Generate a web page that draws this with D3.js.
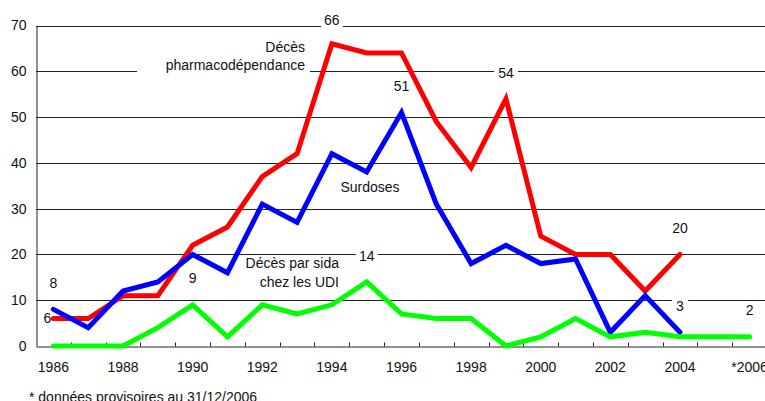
<!DOCTYPE html>
<html><head><meta charset="utf-8">
<script src="https://cdn.jsdelivr.net/npm/d3@7"></script>
<style>html,body{margin:0;padding:0;background:#fff;overflow:hidden}svg{display:block}text{font-family:"Liberation Sans",Arial,sans-serif;fill:#111}</style>
</head><body>
<script>
const years = [1986,1987,1988,1989,1990,1991,1992,1993,1994,1995,1996,1997,1998,1999,2000,2001,2002,2003,2004,2005,2006];
const xTickLabels = ["1986","1988","1990","1992","1994","1996","1998","2000","2002","2004","*2006"];
const yTicks = [0,10,20,30,40,50,60,70];
const pharmaco = [6,6,11,11,22,26,37,42,66,64,64,49,39,54,24,20,20,12,20];
const surdoses = [8,4,12,14,20,16,31,27,42,38,51,31,18,22,18,19,3,11,3];
const sida = [0,0,0,4,9,2,9,7,9,14,7,6,6,0,2,6,2,3,2,2,2];
const seriesColors = ["#ff0000","#0000ff","#00ff00"];
const annotations = [
  {year:1994, value:66, text:"66"},
  {year:1996, value:51, text:"51"},
  {year:1999, value:54, text:"54"},
  {year:1995, value:14, text:"14"},
  {year:2004, value:20, text:"20"},
  {year:2004, value:3, text:"3"},
  {year:2006, value:2, text:"2"},
  {year:1986, value:8, text:"8"},
  {year:1986, value:6, text:"6"},
  {year:1990, value:9, text:"9"}
];

const W=765,H=401,FS="14px";
const svg=d3.select("body").append("svg").attr("width",W).attr("height",H);
const x=d3.scaleBand().domain(years).range([36,767]);
const y=d3.scaleLinear().domain([0,70]).range([346,25.5]);
const cx=d=>x(d)+x.bandwidth()/2;

// gridlines
svg.append("g").selectAll("line").data(yTicks.filter(v=>v>0)).join("line")
 .attr("x1",36).attr("x2",W).attr("y1",d=>Math.round(y(d))+0.5).attr("y2",d=>Math.round(y(d))+0.5)
 .attr("stroke","#222").attr("stroke-width",1);

// y axis
const yAxis=d3.axisLeft(y).tickValues(yTicks).tickSize(0).tickPadding(10);
const ya=svg.append("g").attr("transform","translate(36.5,0)").call(yAxis);
ya.select(".domain").attr("stroke","#222");
ya.selectAll("text").style("font-size",FS).style("font-family","Liberation Sans, Arial, sans-serif").attr("fill","#111");

// x axis
const xa=svg.append("g").attr("transform",`translate(0,${Math.round(y(0))+0.5})`)
 .call(d3.axisBottom(x).tickValues([]).tickSizeOuter(0));
xa.select(".domain").attr("stroke","#222");
xa.selectAll(".bt").data(years.slice(1)).join("line").attr("class","bt")
 .attr("x1",d=>Math.round(x(d))+0.5).attr("x2",d=>Math.round(x(d))+0.5).attr("y1",0).attr("y2",-4).attr("stroke","#222");
svg.append("g").selectAll("text").data(years.filter((d,i)=>i%2===0)).join("text")
 .attr("x",d=>cx(d)).attr("y",372).attr("text-anchor","middle").style("font-size",FS)
 .text((d,i)=>xTickLabels[i]);

function label(xp,yp,lines,anchor,box,gap){
  const g=svg.append("g");
  const t=g.append("text").attr("text-anchor",anchor).style("font-size",FS);
  lines.forEach((l,i)=>t.append("tspan").attr("x",xp).attr("y",yp+i*(gap||18.5)).text(l));
  if(box){const b=t.node().getBBox();
    g.insert("rect","text").attr("x",b.x-box).attr("y",b.y).attr("width",b.width+2*box).attr("height",b.height).attr("fill","#fff");}
  return g;
}

// white gap in 60 gridline behind the pharmacodépendance label
svg.append("rect").attr("x",137).attr("y",y(60)-3).attr("width",173).attr("height",7).attr("fill","#fff");

// series lines
const line=d3.line().x((d,i)=>cx(years[i])).y(d=>y(d));
[pharmaco,surdoses,sida].forEach((s,k)=>{
  svg.append("path").datum(s).attr("d",line).attr("fill","none").attr("stroke",seriesColors[k])
   .attr("stroke-width",5).attr("stroke-linejoin","miter").attr("stroke-linecap","round");
});

// series labels
label(305,51.5,["Décès","pharmacodépendance"],"end",0,18.5);
label(370,192,["Surdoses"],"middle",0);
label(339,268,["Décès par sida","chez les UDI"],"end",0,19);

// value labels (centre offset above the point)
const offs={"66":[0,-23.5,3],"51":[0,-26,0],"54":[0,-26,4],"14":[0,-26,3],"20":[0,-26,0],"3":[0,-26,4],"2":[0,-27,4],"8":[0,-26,0],"6":[-6,-1,0],"9":[0,-27,0]};
annotations.forEach(a=>{
  const o=offs[a.text];
  label(cx(a.year)+o[0],y(a.value)+o[1]+5,[a.text],"middle",o[2]);
});

svg.append("text").attr("x",29).attr("y",401.5).style("font-size",FS).text("* données provisoires au 31/12/2006");
</script>
</body></html>
